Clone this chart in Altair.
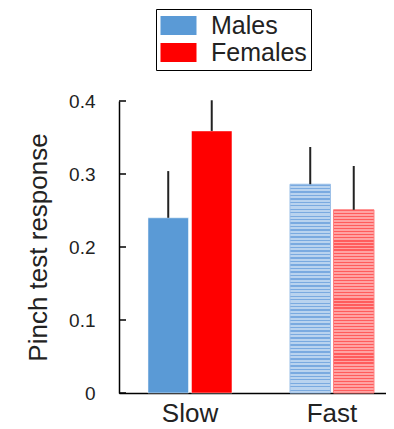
import altair as alt
import pandas as pd

# ---- data ----
conditions = ["Slow", "Slow", "Fast", "Fast"]
sexes = ["Males", "Females", "Males", "Females"]
means = [0.240, 0.359, 0.286, 0.251]
sems = [0.064, 0.042, 0.051, 0.060]
tick_values = [0, 0.1, 0.2, 0.3, 0.4]
cond_order = ["Slow", "Fast"]
sex_order = ["Males", "Females"]

df = pd.DataFrame({"condition": conditions, "sex": sexes, "mean": means, "sem": sems})
ticks_df = pd.DataFrame({"tick": tick_values})

BLUE = "#5a9ad6"
RED = "#ff0000"
BLUE_BG, BLUE_LINE = "#b9d3ef", "#7aaae0"
RED_BG, RED_LINE = "#ffa3a3", "#ff5c5c"


def stripes(bg, line, n=60, frac=0.4):
    stops = []
    for i in range(n):
        a = i / n
        b = (i + frac) / n
        c = (i + 1) / n
        stops += [
            {"offset": round(a, 5), "color": line},
            {"offset": round(b, 5), "color": line},
            {"offset": round(b, 5), "color": bg},
            {"offset": round(c, 5), "color": bg},
        ]
    return {"gradient": "linear", "x1": 0, "y1": 0, "x2": 0, "y2": 1, "stops": stops}


grad_blue = stripes(BLUE_BG, BLUE_LINE)
grad_red = stripes(RED_BG, RED_LINE)

W, H = 267, 292

xscale = alt.Scale(domain=cond_order, paddingInner=0.25, paddingOuter=0.0651, align=0.959)
xoffscale = alt.Scale(domain=sex_order, paddingInner=0.069, paddingOuter=0.2586)
yscale = alt.Scale(domain=[0, 0.4], nice=False, zero=True)

xaxis = alt.Axis(title=None, ticks=False, labelAngle=0, labelFontSize=26, labelColor="#222",
                 labelFont="Liberation Sans", labelPadding=7, domainColor="black", domainWidth=1.5)
yaxis = alt.Axis(title="Pinch test response", values=tick_values, ticks=False, grid=False,
                 labelExpr="datum.value == 0 ? '0' : format(datum.value, '.1f')",
                 labelFontSize=19, labelColor="#222", labelFont="Liberation Sans", labelPadding=24,
                 titleFontSize=26, titleFontWeight="normal", titleColor="#222",
                 titleFont="Liberation Sans", titlePadding=17, domainColor="black", domainWidth=1.5)

X = alt.X("condition:N", scale=xscale, axis=xaxis, sort=cond_order)
XO = alt.XOffset("sex:N", scale=xoffscale, sort=sex_order)
Y = alt.Y("mean:Q", scale=yscale, axis=yaxis)

base = alt.Chart(df)

slow = base.mark_bar(stroke="white", strokeWidth=0.5).encode(
    x=X, xOffset=XO, y=Y,
    color=alt.Color("sex:N", scale=alt.Scale(domain=sex_order, range=[BLUE, RED]),
                    legend=alt.Legend(
                        title=None, orient="none", legendX=37, legendY=-92,
                        strokeColor="black", padding=4,
                        symbolType="M-1,-0.79H2V0.79H-1Z", symbolSize=576,
                        symbolStrokeWidth=0, labelFontSize=25, labelFont="Liberation Sans",
                        labelColor="#222", labelOffset=26, rowPadding=1,
                    )),
).transform_filter(alt.datum.condition == "Slow")

fast = base.mark_bar(strokeWidth=1).encode(
    x=X, xOffset=XO, y=Y,
    fill=alt.condition(alt.datum.sex == "Males", alt.value(grad_blue), alt.value(grad_red)),
    stroke=alt.condition(alt.datum.sex == "Males", alt.value("#9cc0e8"), alt.value("#ff8080")),
).transform_filter(alt.datum.condition == "Fast")

err = base.transform_calculate(top="datum.mean + datum.sem").mark_rule(
    color="#222", strokeWidth=2
).encode(x=X, xOffset=XO, y=Y, y2="top:Q")

tick_rules = alt.Chart(ticks_df).mark_rule(color="black", strokeWidth=1.5).encode(
    y=alt.Y("tick:Q", scale=yscale, axis=yaxis),
    x=alt.value(0), x2=alt.value(7),
)

chart = alt.layer(slow, fast, err, tick_rules).properties(
    width=W, height=H, padding={"left": 17, "top": 0, "right": 0, "bottom": 0}
).configure_view(stroke=None)

chart.save("out.html", embed_options={"renderer": "svg", "actions": False})
